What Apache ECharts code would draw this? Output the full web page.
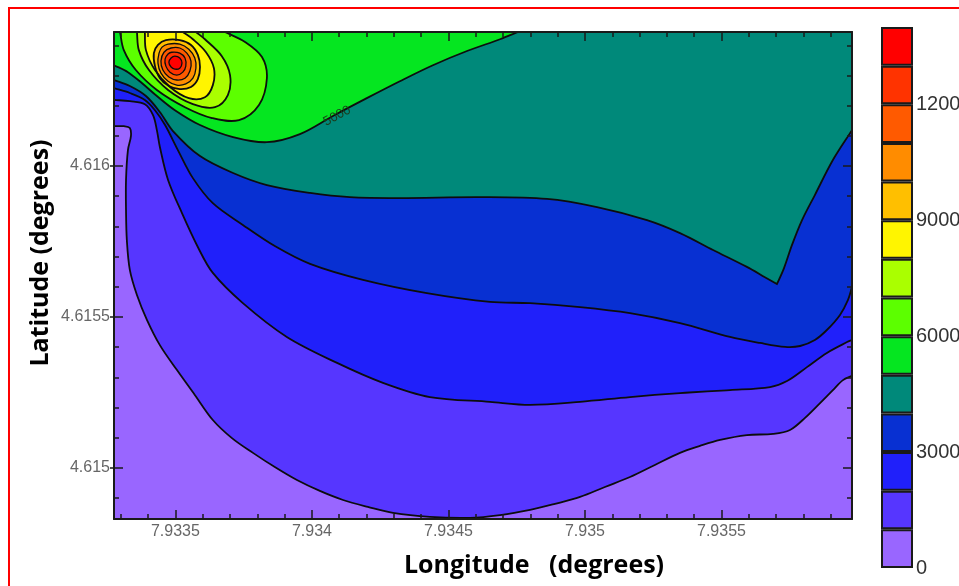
<!DOCTYPE html>
<html><head><meta charset="utf-8">
<script src="https://cdn.jsdelivr.net/npm/echarts@6/dist/echarts.min.js"></script>
<style>html,body{margin:0;padding:0;background:#fff}#c{width:959px;height:586px}</style>
</head><body><div id="c"></div>
<script>
// ---- data ----
const levels = [0,1000,2000,3000,4000,5000,6000,7000,8000,9000,10000,11000,12000,13000,14000];
const bandColors = ['#9966FF','#5636FF','#2020FA','#0830D2','#00897A','#05E620','#5CFF00','#AAFF00','#FFF500','#FFBF00','#FF8C00','#FF5A00','#FF3300','#FF0000'];
const colorbarTicks = [0,3000,6000,9000,12000];
const lonRange = [7.933275, 7.935978];
const latRange = [4.614831, 4.616444];
const xMajorTicks = [7.9335, 7.934, 7.9345, 7.935, 7.9355];
const xMajorLabels = ['7.9335','7.934','7.9345','7.935','7.9355'];
const xMinorTicks = [7.9333,7.9334,7.9335,7.9336,7.9337,7.9338,7.9339,7.934,7.9341,7.9342,7.9343,7.9344,7.9345,7.9346,7.9347,7.9348,7.9349,7.935,7.9351,7.9352,7.9353,7.9354,7.9355,7.9356,7.9357,7.9358,7.9359];
const yMajorTicks = [4.615, 4.6155, 4.616];
const yMajorLabels = ['4.615','4.6155','4.616'];
const yMinorTicks = [4.6149,4.615,4.6151,4.6152,4.6153,4.6154,4.6155,4.6156,4.6157,4.6158,4.6159,4.616,4.6161,4.6162,4.6163,4.6164];

// contour lines [lon, lat]
const c1000 = [[7.933275,4.616132],[7.933311,4.616132],[7.933333,4.616126],[7.933337,4.616099],[7.933326,4.616053],[7.933319,4.615954],[7.933319,4.615854],[7.933322,4.615755],[7.933333,4.615656],[7.933359,4.615573],[7.933396,4.615490],[7.933443,4.615407],[7.933505,4.615325],[7.933571,4.615242],[7.933637,4.615159],[7.933707,4.615099],[7.933784,4.615050],[7.933864,4.615003],[7.933945,4.614960],[7.934029,4.614924],[7.934114,4.614894],[7.934205,4.614871],[7.934297,4.614851],[7.934432,4.614838],[7.934579,4.614835],[7.934689,4.614844],[7.934799,4.614861],[7.934890,4.614881],[7.934982,4.614904],[7.935073,4.614937],[7.935165,4.614970],[7.935256,4.615010],[7.935348,4.615050],[7.935421,4.615073],[7.935495,4.615093],[7.935593,4.615109],[7.935689,4.615113],[7.935751,4.615126],[7.935806,4.615166],[7.935861,4.615215],[7.935908,4.615258],[7.935945,4.615291],[7.935978,4.615305]];
const c2000 = [[7.933275,4.616219],[7.933333,4.616215],[7.933388,4.616205],[7.933418,4.616169],[7.933432,4.616119],[7.933443,4.616063],[7.933473,4.615954],[7.933524,4.615844],[7.933582,4.615732],[7.933637,4.615646],[7.933747,4.615546],[7.933908,4.615434],[7.934092,4.615348],[7.934260,4.615282],[7.934432,4.615235],[7.934652,4.615219],[7.934799,4.615209],[7.934982,4.615219],[7.935165,4.615235],[7.935348,4.615248],[7.935531,4.615258],[7.935678,4.615268],[7.935740,4.615288],[7.935813,4.615334],[7.935886,4.615381],[7.935960,4.615417],[7.935978,4.615424]];
const c3000 = [[7.933275,4.616258],[7.933333,4.616242],[7.933388,4.616219],[7.933425,4.616185],[7.933462,4.616136],[7.933509,4.616053],[7.933564,4.615960],[7.933637,4.615877],[7.933747,4.615805],[7.933864,4.615735],[7.933993,4.615676],[7.934187,4.615623],[7.934421,4.615579],[7.934652,4.615550],[7.934799,4.615546],[7.934982,4.615533],[7.935165,4.615513],[7.935348,4.615480],[7.935531,4.615434],[7.935641,4.615414],[7.935733,4.615401],[7.935788,4.615404],[7.935842,4.615424],[7.935886,4.615457],[7.935934,4.615507],[7.935963,4.615556],[7.935978,4.615599]];
const c4000 = [[7.933275,4.616285],[7.933333,4.616265],[7.933392,4.616232],[7.933443,4.616179],[7.933491,4.616116],[7.933590,4.616033],[7.933711,4.615977],[7.933835,4.615937],[7.933993,4.615911],[7.934139,4.615897],[7.934322,4.615894],[7.934615,4.615897],[7.934861,4.615891],[7.935044,4.615864],[7.935227,4.615821],[7.935348,4.615778],[7.935469,4.615722],[7.935593,4.615666],[7.935659,4.615632],[7.935703,4.615609],[7.935729,4.615662],[7.935758,4.615738],[7.935795,4.615821],[7.935842,4.615904],[7.935908,4.616020],[7.935978,4.616119]];
const c5000 = [[7.933275,4.616334],[7.933326,4.616311],[7.933377,4.616275],[7.933432,4.616232],[7.933498,4.616185],[7.933590,4.616136],[7.933711,4.616096],[7.933835,4.616079],[7.933956,4.616106],[7.934077,4.616166],[7.934201,4.616225],[7.934322,4.616281],[7.934443,4.616334],[7.934568,4.616381],[7.934689,4.616420],[7.934755,4.616444]];
const c6000 = [[7.933297,4.616444],[7.933311,4.616384],[7.933355,4.616318],[7.933432,4.616252],[7.933535,4.616195],[7.933634,4.616159],[7.933733,4.616152],[7.933806,4.616202],[7.933835,4.616291],[7.933817,4.616361],[7.933755,4.616411],[7.933681,4.616444]];
const c7000 = [[7.933359,4.616444],[7.933366,4.616384],[7.933403,4.616318],[7.933473,4.616252],[7.933564,4.616205],[7.933645,4.616195],[7.933692,4.616235],[7.933700,4.616301],[7.933670,4.616364],[7.933608,4.616420],[7.933575,4.616444]];
const c8000 = [[7.933388,4.616444],[7.933392,4.616384],[7.933425,4.616318],[7.933480,4.616262],[7.933549,4.616225],[7.933608,4.616228],[7.933637,4.616268],[7.933641,4.616324],[7.933612,4.616377],[7.933564,4.616420],[7.933527,4.616444]];
const c9000 = [[7.933465,4.616417],[7.933516,4.616417],[7.933557,4.616401],[7.933582,4.616368],[7.933590,4.616328],[7.933582,4.616288],[7.933557,4.616262],[7.933516,4.616255],[7.933476,4.616265],[7.933443,4.616291],[7.933425,4.616331],[7.933421,4.616374],[7.933436,4.616401]];
const c10000 = [[7.933473,4.616404],[7.933516,4.616404],[7.933549,4.616387],[7.933571,4.616358],[7.933575,4.616324],[7.933564,4.616291],[7.933538,4.616272],[7.933505,4.616268],[7.933473,4.616281],[7.933447,4.616308],[7.933436,4.616341],[7.933440,4.616374],[7.933451,4.616394]];
const c11000 = [[7.933484,4.616391],[7.933516,4.616391],[7.933542,4.616374],[7.933557,4.616348],[7.933553,4.616315],[7.933535,4.616291],[7.933505,4.616285],[7.933476,4.616295],[7.933454,4.616318],[7.933447,4.616348],[7.933458,4.616377]];
const c12000 = [[7.933487,4.616377],[7.933516,4.616374],[7.933535,4.616358],[7.933538,4.616331],[7.933527,4.616311],[7.933505,4.616301],[7.933480,4.616311],[7.933465,4.616331],[7.933462,4.616354],[7.933473,4.616371]];
const c13000 = [[7.933498,4.616364],[7.933516,4.616358],[7.933524,4.616341],[7.933516,4.616324],[7.933498,4.616321],[7.933484,4.616328],[7.933476,4.616344],[7.933484,4.616358]];
const label5000 = [7.934092, 4.616166];

// how each level region closes against the frame
const contours = [
  {level:1000, pts:c1000, close:'above'},
  {level:2000, pts:c2000, close:'above'},
  {level:3000, pts:c3000, close:'above'},
  {level:4000, pts:c4000, close:'above'},
  {level:5000, pts:c5000, close:'topleft'},
  {level:6000, pts:c6000, close:'top'},
  {level:7000, pts:c7000, close:'top'},
  {level:8000, pts:c8000, close:'top'},
  {level:9000, pts:c9000, close:'loop'},
  {level:10000, pts:c10000, close:'loop'},
  {level:11000, pts:c11000, close:'loop'},
  {level:12000, pts:c12000, close:'loop'},
  {level:13000, pts:c13000, close:'loop'}
];

// ---- drawing helpers ----
function smoothPath(P, closed) {
  const n = P.length;
  const dirs = P.map((p, i) => {
    let prev = closed ? P[(i - 1 + n) % n] : (i > 0 ? P[i - 1] : p);
    let next = closed ? P[(i + 1) % n] : (i < n - 1 ? P[i + 1] : p);
    if (prev !== p && next !== p) {
      const d1x = p[0] - prev[0], d1y = p[1] - prev[1], d2x = next[0] - p[0], d2y = next[1] - p[1];
      if (d1x * d2x + d1y * d2y < 0) return [0, 0];
    }
    const dx = next[0] - prev[0], dy = next[1] - prev[1];
    const L = Math.hypot(dx, dy) || 1;
    return [dx / L, dy / L];
  });
  let d = 'M' + P[0][0] + ' ' + P[0][1];
  const segs = closed ? n : n - 1;
  for (let i = 0; i < segs; i++) {
    const a = P[i], b = P[(i + 1) % n];
    const len = Math.hypot(b[0] - a[0], b[1] - a[1]) / 3;
    const ta = dirs[i], tb = dirs[(i + 1) % n];
    d += ' C' + (a[0] + ta[0] * len) + ' ' + (a[1] + ta[1] * len) + ' ' +
         (b[0] - tb[0] * len) + ' ' + (b[1] - tb[1] * len) + ' ' + b[0] + ' ' + b[1];
  }
  if (closed) d += ' Z';
  return d;
}
function fillPath(api, c) {
  const P = c.pts.map(p => api.coord(p));
  const TL = api.coord([lonRange[0], latRange[1]]);
  const TR = api.coord([lonRange[1], latRange[1]]);
  if (c.close === 'loop') return smoothPath(P, true);
  let d = smoothPath(P, false);
  if (c.close === 'above') d += ' L' + TR[0] + ' ' + TR[1] + ' L' + TL[0] + ' ' + TL[1];
  else if (c.close === 'topleft') d += ' L' + TL[0] + ' ' + TL[1];
  return d + ' Z';
}
function lookupLabel(v, ticks, labels) {
  for (let i = 0; i < ticks.length; i++) if (Math.abs(v - ticks[i]) < 1e-9) return labels[i];
  return '';
}

const frameColor = '#1a1a1a';
const tickFont = {color: '#666', fontSize: 16, fontFamily: 'Liberation Sans'};
function axisBase(extra) {
  return Object.assign({
    gridIndex: 0, type: 'value', z: 10, splitLine: {show: false},
    axisLine: {show: false}, axisLabel: {show: false}, axisTick: {show: false}
  }, extra);
}
const tickStyle = {color: frameColor, width: 1.5};

const xAxes = [
  axisBase({min: lonRange[0], max: lonRange[1], position: 'bottom',
    axisLine: {show: true, lineStyle: {color: frameColor, width: 2}},
    axisTick: {show: true, inside: true, length: 5, customValues: xMinorTicks, lineStyle: tickStyle}}),
  axisBase({min: lonRange[0], max: lonRange[1], position: 'bottom',
    axisTick: {show: true, inside: true, length: 9, customValues: xMajorTicks, lineStyle: tickStyle},
    axisLabel: Object.assign({show: true, margin: 5, customValues: xMajorTicks,
      formatter: v => lookupLabel(v, xMajorTicks, xMajorLabels)}, tickFont)}),
  axisBase({min: lonRange[0], max: lonRange[1], position: 'top',
    axisLine: {show: true, lineStyle: {color: frameColor, width: 2}},
    axisTick: {show: true, inside: true, length: 5, customValues: xMinorTicks, lineStyle: tickStyle}}),
  axisBase({min: lonRange[0], max: lonRange[1], position: 'top',
    axisTick: {show: true, inside: true, length: 9, customValues: xMajorTicks, lineStyle: tickStyle}}),
  {gridIndex: 1, type: 'category', data: ['bar'], show: false}
];
const yAxes = [
  axisBase({min: latRange[0], max: latRange[1], position: 'left',
    axisLine: {show: true, lineStyle: {color: frameColor, width: 2}},
    axisTick: {show: true, inside: true, length: 5, customValues: yMinorTicks, lineStyle: tickStyle}}),
  axisBase({min: latRange[0], max: latRange[1], position: 'left',
    axisTick: {show: true, inside: true, length: 9, customValues: yMajorTicks, lineStyle: tickStyle}}),
  axisBase({min: latRange[0], max: latRange[1], position: 'left',
    axisTick: {show: true, inside: false, length: 4, customValues: yMajorTicks, lineStyle: tickStyle},
    axisLabel: Object.assign({show: true, margin: 4, customValues: yMajorTicks,
      formatter: v => lookupLabel(v, yMajorTicks, yMajorLabels)}, tickFont)}),
  axisBase({min: latRange[0], max: latRange[1], position: 'right',
    axisLine: {show: true, lineStyle: {color: frameColor, width: 2}},
    axisTick: {show: true, inside: true, length: 5, customValues: yMinorTicks, lineStyle: tickStyle}}),
  axisBase({min: latRange[0], max: latRange[1], position: 'right',
    axisTick: {show: true, inside: true, length: 9, customValues: yMajorTicks, lineStyle: tickStyle}}),
  {gridIndex: 1, type: 'value', min: levels[0], max: levels[levels.length - 1], position: 'right',
    splitLine: {show: false}, axisLine: {show: false}, axisTick: {show: false},
    axisLabel: {show: true, margin: 3, customValues: colorbarTicks, color: '#333', fontSize: 20,
      fontFamily: 'Liberation Sans', formatter: v => String(v)}}
];

const colorbarSeries = bandColors.map((col, i) => ({
  type: 'bar', xAxisIndex: 4, yAxisIndex: 5, stack: 'cb', silent: true,
  barWidth: '100%', data: [levels[i + 1] - levels[i]],
  itemStyle: {color: col, borderColor: '#1a1a1a', borderWidth: 2}
}));

const chart = echarts.init(document.getElementById('c'), null, {renderer: 'canvas'});
chart.setOption({
  animation: false,
  grid: [
    {left: 114, right: 107, top: 32, bottom: 67, show: true, backgroundColor: bandColors[0], borderWidth: 0,
      containLabel: false, outerBoundsMode: 'none'},
    {left: 881, right: 46, top: 27, bottom: 18, containLabel: false, outerBoundsMode: 'none'}
  ],
  xAxis: xAxes,
  yAxis: yAxes,
  series: [
    {
      type: 'custom', name: 'fills', xAxisIndex: 0, yAxisIndex: 0, clip: true, silent: true, z: 2,
      data: contours.map(c => c.pts[0]),
      renderItem: function (params, api) {
        const c = contours[params.dataIndex];
        const idx = levels.indexOf(c.level);
        return {type: 'path', shape: {pathData: fillPath(api, c)},
          style: {fill: bandColors[idx], stroke: null}};
      }
    },
    {
      type: 'custom', name: 'lines', xAxisIndex: 0, yAxisIndex: 0, clip: true, silent: true, z: 3,
      data: contours.map(c => c.pts[0]),
      renderItem: function (params, api) {
        const c = contours[params.dataIndex];
        const P = c.pts.map(p => api.coord(p));
        const lw = c.level >= 10000 ? 1.3 : 1.8;
        const children = [{type: 'path', shape: {pathData: smoothPath(P, c.close === 'loop')},
          style: {fill: null, stroke: '#0d0d0d', lineWidth: lw}}];
        if (c.level === 5000) {
          const at = api.coord(label5000);
          const a = api.coord(c.pts[8]), b = api.coord(c.pts[10]);
          const ang = -Math.atan2(b[1] - a[1], b[0] - a[0]);
          children.push({type: 'text', x: at[0], y: at[1], rotation: ang,
            style: {text: '5000', fill: '#1a3a1a', fontSize: 13, fontFamily: 'Liberation Sans',
              align: 'center', verticalAlign: 'middle'}});
        }
        return {type: 'group', children: children};
      }
    }
  ].concat(colorbarSeries),
  graphic: [
    {type: 'rect', silent: true, z: 100, shape: {x: 9, y: 8, width: 960, height: 600},
      style: {fill: null, stroke: '#ff0000', lineWidth: 2}},
    {type: 'text', x: 41, y: 253, rotation: Math.PI / 2, z: 100,
      style: {text: 'Latitude (degrees)', font: 'bold 25px "Open Sans"', fill: '#000', align: 'center', verticalAlign: 'middle'}},
    {type: 'text', x: 534, y: 566, z: 100,
      style: {text: 'Longitude   (degrees)', font: 'bold 25px "Open Sans"', fill: '#000', align: 'center', verticalAlign: 'middle'}}
  ]
});
</script>
</body></html>
